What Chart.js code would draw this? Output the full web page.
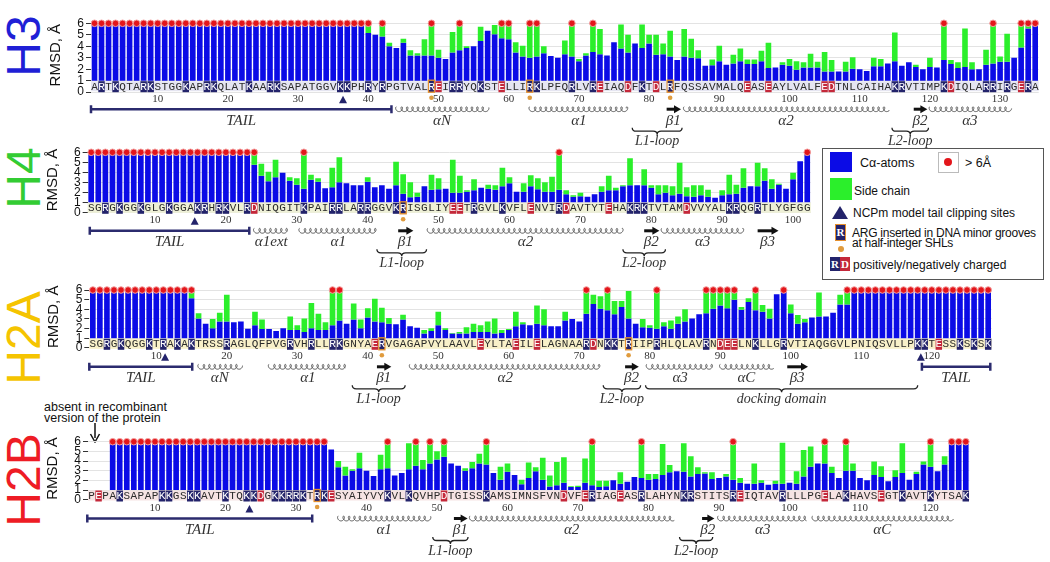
<!DOCTYPE html>
<html lang="en">
<head>
<meta charset="UTF-8">
<title>Per-residue RMSD of histones H3, H4, H2A, H2B</title>
<style>
    body {
        margin: 0;
        background: #ffffff;
        font-family: 'Liberation Sans', Arial, sans-serif;
        color: #111;
    }
    .page {
        position: relative;
        width: 1050px;
        height: 562px;
        overflow: hidden;
    }
    canvas.panel {
        position: absolute;
        left: 0;
        top: 0;
    }
    .hlabel {
        position: absolute;
        left: -31px;
        width: 110px;
        height: 50px;
        line-height: 50px;
        text-align: center;
        font-size: 48px;
        transform: rotate(-90deg);
    }
    .legend {
        position: absolute;
        left: 822px;
        top: 148px;
        width: 220px;
        height: 130px;
        border: 1px solid #555;
        background: #fff;
        font-size: 12px;
    }
    .legend div, .legend span {
        position: absolute;
    }
    .legend span {
        white-space: nowrap;
        line-height: 12px;
    }
    .note {
        position: absolute;
        left: 44px;
        top: 402px;
        font-size: 12.5px;
        line-height: 11px;
        color: #111;
    }
</style>
</head>
<body>
<div class="page" id="page">
    <div class="hlabel" style="top:21px;color:#1f1fd6">H3</div>
    <div class="hlabel" style="top:153px;color:#33cc33">H4</div>
    <div class="hlabel" style="top:313px;color:#f5c400">H2A</div>
    <div class="hlabel" style="top:455px;color:#ee1c25">H2B</div>

    <div class="legend">
        <div style="left:7px;top:3px;width:22px;height:20px;background:#0b0be6"></div>
        <span style="left:37px;top:8px;font-size:12.5px">Cα-atoms</span>
        <div style="left:115px;top:3px;width:19px;height:19px;border:1px solid #bbb"></div>
        <div style="left:121px;top:9px;width:8px;height:8px;border-radius:50%;background:#e3161b"></div>
        <span style="left:142px;top:8px;font-size:12.5px">&gt; 6Å</span>
        <div style="left:7px;top:29px;width:22px;height:22px;background:#2bef2b"></div>
        <span style="left:31px;top:36px">Side chain</span>
        <div style="left:9px;top:57px;width:0;height:0;border-left:8px solid transparent;border-right:8px solid transparent;border-bottom:13px solid #23236b"></div>
        <span style="left:30px;top:58px">NCPm model tail clipping sites</span>
        <div style="left:12px;top:75px;width:9px;height:15px;background:#23236b;border:1.5px solid #e5902e;color:#fff;font:bold 11px 'Liberation Serif',serif;text-align:center;line-height:15px">R</div>
        <div style="left:15px;top:97px;width:6px;height:6px;border-radius:50%;background:#e09b3d"></div>
        <span style="left:29px;top:78px;letter-spacing:-0.25px">ARG inserted in DNA minor grooves</span>
        <span style="left:29px;top:88px;letter-spacing:-0.25px">at half-integer SHLs</span>
        <div style="left:7px;top:108px;width:10px;height:14px;background:#23236b;color:#fff;font:bold 11px 'Liberation Serif',serif;text-align:center;line-height:14px">R</div>
        <div style="left:17px;top:108px;width:10px;height:14px;background:#c4283a;color:#fff;font:bold 11px 'Liberation Serif',serif;text-align:center;line-height:14px">D</div>
        <span style="left:30px;top:110px">positively/negatively charged</span>
    </div>

    <div class="note">absent in recombinant<br>version of the protein</div>
    <svg style="position:absolute;left:88px;top:423px" width="14" height="20">
        <line x1="7" y1="0" x2="7" y2="15" stroke="#111" stroke-width="1.5"/>
        <path d="M2.5 11 L7 19 L11.5 11" fill="none" stroke="#111" stroke-width="1.5"/>
    </svg>
</div>

<script src="https://cdn.jsdelivr.net/npm/chart.js"></script>
<script>
    // bars start at 1 A, the 0..1 band holds the sequence
    const BAR_BASE = 1;
    const Y_TICKS = [0, 1, 2, 3, 4, 5, 6];

    // ---------- H3 ----------
    const H3_SEQ = 'ARTKQTARKSTGGKAPRKQLATKAARKSAPATGGVKKPHRYRPGTVALREIRRYQKSTELLIRKLPFQRLVREIAQDFKTDLRFQSSAVMALQEASEAYLVALFEDTNLCAIHAKRVTIMPKDIQLARRIRGERA';
    const H3_CA = [
        6, 6, 6, 6, 6, 6, 6, 6, 6, 6,
        6, 6, 6, 6, 6, 6, 6, 6, 6, 6,
        6, 6, 6, 6, 6, 6, 6, 6, 6, 6,
        6, 6, 6, 6, 6, 6, 6, 6, 6, 5.15,
        5.0, 4.85, 4.0, 3.85, 4.3, 3.2, 3.2, 3.2, 3.2, 3.0,
        2.9, 3.45, 3.65, 3.85, 4.0, 4.45, 5.35, 5.05, 4.7, 4.6,
        3.45, 3.1, 3.0, 3.1, 3.4, 3.15, 3.0, 3.3, 3.1, 2.7,
        3.2, 3.5, 3.3, 3.2, 4.35, 3.8, 3.45, 4.25, 3.85, 4.25,
        3.25, 3.3, 3.1, 2.8, 3.1, 3.0, 2.95, 2.3, 2.35, 2.7,
        2.4, 2.5, 2.7, 2.45, 2.45, 2.7, 2.1, 2.15, 2.4, 2.3,
        1.95, 2.15, 2.15, 2.15, 1.8, 1.8, 1.8, 1.8, 2.05, 2.0,
        1.85, 2.25, 2.25, 2.5, 2.7, 2.3, 2.6, 2.2, 2.0, 2.2,
        2.15, 2.8, 2.45, 2.1, 2.2, 2.0, 2.0, 2.4, 2.5, 2.65,
        2.65, 3.0, 3.9, 5.55, 5.8
    ];
    const H3_TOTAL = [
        6, 6, 6, 6, 6, 6, 6, 6, 6, 6,
        6, 6, 6, 6, 6, 6, 6, 6, 6, 6,
        6, 6, 6, 6, 6, 6, 6, 6, 6, 6,
        6, 6, 6, 6, 6, 6, 6, 6, 6, 6,
        5.0, 6, 4.3, 3.85, 4.65, 3.65, 3.4, 4.6, 6, 3.7,
        2.9, 5.25, 6, 4.0, 4.0, 5.7, 5.35, 5.85, 6, 6,
        4.35, 4.05, 6, 6, 4.0, 3.15, 3.0, 4.5, 6, 2.9,
        3.4, 6, 5.5, 3.2, 4.35, 5.9, 5.0, 4.25, 5.9, 5.0,
        5.0, 4.25, 5.35, 2.8, 5.5, 4.65, 3.65, 2.3, 2.85, 4.05,
        2.4, 3.25, 3.8, 2.85, 2.85, 3.6, 4.3, 2.15, 2.6, 2.9,
        2.7, 2.6, 3.35, 2.65, 3.5, 2.8, 1.8, 2.65, 3.05, 2.0,
        1.85, 3.0, 2.9, 2.5, 5.2, 2.3, 2.6, 2.4, 2.0, 3.0,
        2.15, 6, 2.8, 2.6, 5.55, 2.6, 2.0, 3.7, 6, 3.1,
        5.1, 3.0, 6, 6, 6
    ];
    const H3_POS = [2, 4, 8, 9, 14, 17, 18, 23, 26, 27, 36, 37, 40, 42, 52, 53, 56, 64, 69, 72, 79, 115, 116, 122, 128, 129, 131, 134];
    const H3_NEG = [50, 59, 73, 77, 81, 94, 97, 105, 106, 123, 133];
    const H3_ARG = [49, 63, 83];
    const H3_CLIP = [36.4];
    const H3_SS = [
        ['tail', 0.5, 43.3, 'TAIL'],
        ['helix', 44, 57, 'αN'],
        ['helix', 63, 77, 'α1'],
        ['strand', 82.5, 84.4, 'β1'],
        ['helix', 85, 114, 'α2'],
        ['strand', 117.7, 119.5, 'β2'],
        ['helix', 120, 131.4, 'α3'],
        ['brace', 77.6, 84.7, 'L1-loop'],
        ['brace', 114.6, 119.8, 'L2-loop']
    ];

    // ---------- H4 ----------
    const H4_SEQ = 'SGRGKGGKGLGKGGAKRHRKVLRDNIQGITKPAIRRLARRGGVKRISGLIYEETRGVLKVFLENVIRDAVTYTEHAKRKTVTAMDVVYALKRQGRTLYGFGG';
    const H4_CA = [
        6, 6, 6, 6, 6, 6, 6, 6, 6, 6,
        6, 6, 6, 6, 6, 6, 6, 6, 6, 6,
        6, 6, 6, 4.75, 3.65, 3.1, 3.5, 3.95, 3.15, 2.75,
        2.35, 3.25, 3.05, 2.4, 2.5, 3.0, 2.9, 2.7, 2.7, 3.05,
        2.5, 2.7, 2.35, 2.7, 1.85, 1.5, 1.55, 2.6, 2.25, 2.3,
        2.35, 1.95, 1.95, 2.05, 2.2, 2.45, 2.35, 2.25, 2.6, 2.9,
        2.05, 2.05, 2.6, 2.3, 2.05, 2.05, 2.25, 1.8, 1.55, 1.6,
        1.55, 1.8, 2.05, 2.2, 2.2, 2.6, 2.7, 2.7, 2.7, 2.45,
        1.8, 1.95, 1.7, 1.85, 1.6, 1.55, 1.7, 1.55, 1.45, 1.7,
        1.8, 1.85, 2.45, 2.6, 2.6, 3.15, 2.35, 2.75, 2.35, 3.3,
        5.1, 5.8
    ];
    const H4_TOTAL = [
        6, 6, 6, 6, 6, 6, 6, 6, 6, 6,
        6, 6, 6, 6, 6, 6, 6, 6, 6, 6,
        6, 6, 6, 6, 4.85, 4.05, 5.25, 3.95, 3.5, 3.4,
        6, 3.75, 3.4, 2.4, 4.45, 5.5, 2.9, 2.7, 2.7, 3.5,
        2.5, 2.7, 2.35, 5.05, 3.8, 3.0, 1.95, 2.6, 3.75, 3.4,
        2.35, 5.25, 3.65, 2.2, 3.3, 2.45, 2.75, 2.7, 4.45, 3.5,
        2.05, 2.9, 3.7, 3.4, 3.0, 3.55, 6, 2.2, 1.7, 1.95,
        1.55, 1.8, 2.6, 3.65, 2.45, 2.7, 5.4, 2.7, 4.3, 2.7,
        2.7, 2.7, 2.6, 4.95, 2.5, 2.7, 2.7, 2.25, 1.45, 2.2,
        3.75, 2.75, 4.4, 2.6, 4.95, 4.4, 3.3, 2.85, 2.35, 3.95,
        5.1, 6
    ];
    const H4_POS = [3, 5, 8, 12, 16, 17, 19, 20, 23, 31, 35, 36, 39, 40, 44, 55, 59, 67, 77, 78, 79, 91, 92, 95];
    const H4_NEG = [24, 52, 53, 63, 68, 74, 85];
    const H4_ARG = [45];
    const H4_CLIP = [15.6];
    const H4_SS = [
        ['tail', 0.8, 23.3, 'TAIL'],
        ['helix', 24, 28.8, 'α1ext'],
        ['helix', 30.4, 41.3, 'α1'],
        ['strand', 44.3, 46.3, 'β1'],
        ['helix', 48.5, 76, 'α2'],
        ['strand', 79, 81, 'β2'],
        ['helix', 81.5, 93, 'α3'],
        ['strand', 95, 97.8, 'β3'],
        ['brace', 41.3, 48.3, 'L1-loop'],
        ['brace', 76, 82, 'L2-loop']
    ];

    // ---------- H2A ----------
    const H2A_SEQ = 'SGRGKQGGKTRAKAKTRSSRAGLQFPVGRVHRLLRKGNYAERVGAGAPVYLAAVLEYLTAEILELAGNAARDNKKTRIIPRHLQLAVRNDEELNKLLGRVTIAQGGVLPNIQSVLLPKKTESSKSKSK';
    const H2A_CA = [
        6, 6, 6, 6, 6, 6, 6, 6, 6, 6,
        6, 6, 6, 6, 5.15, 3.05, 2.5, 2.05, 2.75, 2.75,
        2.65, 2.75, 2.0, 2.35, 1.95, 1.95, 1.75, 2.05, 1.85, 1.85,
        1.65, 2.05, 1.85, 1.85, 2.35, 2.85, 2.5, 2.95, 2.05, 3.15,
        2.75, 2.65, 2.5, 2.45, 2.95, 2.25, 2.1, 1.5, 1.75, 2.35,
        1.85, 1.5, 1.5, 1.5, 1.65, 1.65, 1.65, 1.5, 1.55, 1.85,
        2.25, 2.45, 2.35, 2.5, 2.35, 2.25, 2.25, 2.85, 3.0, 2.75,
        3.55, 4.55, 4.05, 3.9, 3.5, 4.25, 3.05, 2.5, 2.15, 2.1,
        2.0, 2.25, 2.0, 2.5, 2.75, 3.05, 3.5, 3.6, 4.05, 4.4,
        4.1, 5.0, 3.95, 4.75, 3.9, 3.75, 3.05, 5.55, 5.85, 3.6,
        2.5, 2.65, 3.15, 3.25, 3.25, 3.65, 4.5, 4.5, 6, 6,
        6, 6, 6, 6, 6, 6, 6, 6, 6, 6,
        6, 6, 6, 6, 6, 6, 6, 6
    ];
    const H2A_TOTAL = [
        6, 6, 6, 6, 6, 6, 6, 6, 6, 6,
        6, 6, 6, 6, 6, 3.6, 2.5, 3.0, 3.65, 5.5,
        2.65, 2.75, 2.0, 3.75, 2.95, 1.95, 1.75, 2.05, 3.25, 2.35,
        3.05, 4.65, 3.55, 2.65, 6, 6, 2.5, 4.6, 2.95, 4.1,
        5.1, 4.15, 3.1, 2.45, 3.45, 2.25, 2.1, 1.85, 2.05, 3.75,
        2.05, 1.55, 1.65, 2.15, 2.5, 2.35, 2.75, 3.05, 1.85, 1.95,
        3.75, 2.65, 2.35, 4.4, 4.0, 2.25, 2.25, 3.75, 3.0, 2.75,
        6, 5.5, 5.35, 6, 4.85, 4.85, 5.9, 2.5, 3.0, 2.35,
        6, 2.65, 2.85, 3.25, 4.0, 3.05, 3.5, 6, 6, 6,
        6, 6, 4.25, 5.15, 6, 4.45, 4.05, 5.55, 6, 4.5,
        3.4, 3.0, 3.15, 5.75, 3.25, 3.65, 5.5, 6, 6, 6,
        6, 6, 6, 6, 6, 6, 6, 6, 6, 6,
        6, 6, 6, 6, 6, 6, 6, 6
    ];
    const H2A_POS = [3, 5, 9, 11, 13, 15, 20, 29, 32, 35, 36, 71, 74, 75, 81, 88, 95, 99, 118, 119, 124, 126, 128];
    const H2A_NEG = [41, 56, 61, 64, 72, 90, 91, 92, 121];
    const H2A_ARG = [42, 77];
    const H2A_CLIP = [11.25, 118.45];
    const H2A_SS = [
        ['tail', 0.5, 15.1, 'TAIL'],
        ['helix', 16, 22, 'αN'],
        ['helix', 26, 37, 'α1'],
        ['strand', 41.3, 43.2, 'β1'],
        ['helix', 46, 73, 'α2'],
        ['strand', 76.5, 78.3, 'β2'],
        ['helix', 79.6, 89, 'α3'],
        ['helix', 90, 97.4, 'αC'],
        ['strand', 99.5, 102.3, 'β3'],
        ['tail', 118.6, 128.3, 'TAIL'],
        ['brace', 37.8, 45.3, 'L1-loop'],
        ['brace', 73.4, 78.7, 'L2-loop'],
        ['brace', 79.4, 118, 'docking domain']
    ];

    // ---------- H2B ----------
    const H2B_SEQ = 'PEPAKSAPAPKKGSKKAVTKTQKKDGKKRRKTRKESYAIYVYKVLKQVHPDTGISSKAMSIMNSFVNDVFERIAGEASRLAHYNKRSTITSREIQTAVRLLLPGELAKHAVSEGTKAVTKYTSAK';
    const H2B_CA = [
        null, null, null, 6, 6, 6, 6, 6, 6, 6,
        6, 6, 6, 6, 6, 6, 6, 6, 6, 6,
        6, 6, 6, 6, 6, 6, 6, 6, 6, 6,
        6, 6, 6, 6, 5.2, 3.35, 2.5, 3.0, 3.25, 3.0,
        2.45, 3.15, 3.25, 2.5, 2.75, 3.15, 3.5, 3.15, 3.75, 4.15,
        4.45, 3.75, 3.5, 3.0, 3.25, 3.75, 3.65, 2.75, 2.05, 2.9,
        2.55, 1.6, 2.25, 2.95, 2.05, 1.35, 1.5, 1.75, 1.3, 1.3,
        1.75, 1.5, 1.3, 1.4, 2.0, 1.65, 1.85, 2.35, 2.25, 2.05,
        2.15, 2.55, 2.85, 2.95, 2.9, 2.4, 2.65, 2.7, 2.15, 2.25,
        2.4, 2.05, 1.75, 1.65, 1.65, 1.75, 1.55, 1.65, 1.65, 1.75,
        1.65, 2.4, 3.4, 3.75, 3.75, 2.75, 2.25, 3.0, 3.0, 2.25,
        2.0, 2.55, 2.35, 1.9, 2.35, 2.75, 2.05, 2.65, 3.65, 3.4,
        2.95, 3.65, 6, 6, 6
    ];
    const H2B_TOTAL = [
        null, null, null, 6, 6, 6, 6, 6, 6, 6,
        6, 6, 6, 6, 6, 6, 6, 6, 6, 6,
        6, 6, 6, 6, 6, 6, 6, 6, 6, 6,
        6, 6, 6, 6, 5.2, 4.0, 3.4, 3.15, 4.85, 3.0,
        2.45, 4.65, 6, 2.5, 2.75, 5.85, 6, 4.1, 6, 5.0,
        6, 3.75, 3.5, 3.25, 3.9, 4.75, 6, 2.75, 3.4, 3.75,
        2.55, 2.05, 3.85, 3.35, 4.35, 2.5, 3.9, 4.4, 1.4, 1.45,
        4.25, 6, 1.95, 1.95, 2.0, 2.85, 1.85, 2.35, 6, 2.65,
        2.65, 5.75, 3.6, 2.95, 5.85, 4.5, 3.35, 2.85, 2.85, 2.25,
        2.65, 6, 2.25, 1.65, 3.75, 2.0, 1.55, 1.95, 5.9, 1.75,
        2.95, 5.15, 5.5, 3.75, 6, 3.4, 2.25, 6, 3.75, 2.25,
        2.0, 3.95, 3.45, 1.9, 3.05, 5.85, 2.05, 2.9, 3.95, 6,
        2.95, 4.5, 6, 6, 6
    ];
    const H2B_POS = [5, 11, 12, 15, 16, 20, 23, 24, 27, 28, 29, 30, 31, 34, 43, 46, 57, 72, 79, 85, 86, 92, 99, 108, 116, 120, 125];
    const H2B_NEG = [2, 25, 35, 51, 68, 71, 76, 93, 105, 113];
    const H2B_ARG = [33];
    const H2B_CLIP = [23.4];
    const H2B_SS = [
        ['tail', 0.4, 32.3, 'TAIL'],
        ['helix', 36, 49, 'α1'],
        ['strand', 52.4, 54.2, 'β1'],
        ['helix', 54.7, 83.5, 'α2'],
        ['strand', 87.6, 89.2, 'β2'],
        ['helix', 89.9, 102.5, 'α3'],
        ['helix', 103.3, 123, 'αC'],
        ['brace', 49.4, 54.4, 'L1-loop'],
        ['brace', 84.4, 89.1, 'L2-loop']
    ];

    // panel placement on the page (pixels)
    const AXIS_W = 44;
    const PANELS = [
        { seq: H3_SEQ, ca: H3_CA, total: H3_TOTAL, pos: H3_POS, neg: H3_NEG, arg: H3_ARG, clip: H3_CLIP, ss: H3_SS,
          left: 91.0, right: 1038.7, y6: 23.3, unit: 11.48, strip: '#e5e5f1' },
        { seq: H4_SEQ, ca: H4_CA, total: H4_TOTAL, pos: H4_POS, neg: H4_NEG, arg: H4_ARG, clip: H4_CLIP, ss: H4_SS,
          left: 87.65, right: 810.8, y6: 152.3, unit: 10.0, strip: '#eef0d6' },
        { seq: H2A_SEQ, ca: H2A_CA, total: H2A_TOTAL, pos: H2A_POS, neg: H2A_NEG, arg: H2A_ARG, clip: H2A_CLIP, ss: H2A_SS,
          left: 89.3, right: 991.7, y6: 290, unit: 9.66, strip: '#f8f0c9' },
        { seq: H2B_SEQ, ca: H2B_CA, total: H2B_TOTAL, pos: H2B_POS, neg: H2B_NEG, arg: H2B_ARG, clip: H2B_CLIP, ss: H2B_SS,
          left: 88.0, right: 969.3, y6: 441.7, unit: 9.66, strip: '#f6e3e3' }
    ];

    const NAVY = '#23236b';
    const RED = '#c4283a';
    const ORANGE = '#e5902e';
    const INK = '#2a2a2a';

    function drawCoil(ctx, x1, x2, y) {
        const period = 5.4, a = period / (2 * Math.PI), bx = 1.9, by = 2.4;
        ctx.beginPath();
        for (let t = 0; a * t <= x2 - x1; t += 0.15) {
            const x = x1 + a * t - bx * Math.sin(t);
            const yy = y - by * Math.cos(t);
            if (t === 0) ctx.moveTo(x, yy); else ctx.lineTo(x, yy);
        }
        ctx.lineWidth = 0.9;
        ctx.strokeStyle = '#444';
        ctx.stroke();
    }

    function drawArrow(ctx, x1, x2, y) {
        ctx.fillStyle = '#111';
        ctx.fillRect(x1, y - 1.5, x2 - x1 - 5, 3);
        ctx.beginPath();
        ctx.moveTo(x2 - 6, y - 4);
        ctx.lineTo(x2 + 1, y);
        ctx.lineTo(x2 - 6, y + 4);
        ctx.closePath();
        ctx.fill();
    }

    function drawTail(ctx, x1, x2, y) {
        ctx.strokeStyle = '#2b2b6e';
        ctx.lineWidth = 2.5;
        ctx.beginPath();
        ctx.moveTo(x1, y); ctx.lineTo(x2, y);
        ctx.moveTo(x1, y - 4); ctx.lineTo(x1, y + 4);
        ctx.moveTo(x2, y - 4); ctx.lineTo(x2, y + 4);
        ctx.stroke();
    }

    function drawBrace(ctx, x1, x2, y, h) {
        const xm = (x1 + x2) / 2, r = Math.min(4, (x2 - x1) / 4);
        ctx.strokeStyle = '#222';
        ctx.lineWidth = 1.3;
        ctx.beginPath();
        ctx.moveTo(x1, y);
        ctx.quadraticCurveTo(x1, y + h / 2, x1 + r, y + h / 2);
        ctx.lineTo(xm - r, y + h / 2);
        ctx.quadraticCurveTo(xm, y + h / 2, xm, y + h);
        ctx.quadraticCurveTo(xm, y + h / 2, xm + r, y + h / 2);
        ctx.lineTo(x2 - r, y + h / 2);
        ctx.quadraticCurveTo(x2, y + h / 2, x2, y);
        ctx.stroke();
    }

    // sequence strip, residue numbers and secondary structure under each panel
    function seqPlugin(p) {
        return {
            id: 'seqStrip',
            afterDatasetsDraw(chart) {
                const ctx = chart.ctx;
                const xs = chart.scales.x, ys = chart.scales.y;
                const px = r => xs.getPixelForValue(r - 1);
                const step = px(2) - px(1);
                const base = ys.getPixelForValue(BAR_BASE);
                const ly = base + 5.5;
                const n = p.seq.length;
                ctx.save();

                ctx.fillStyle = p.strip;
                ctx.fillRect(px(1) - step / 2, ly - 5, step * n, 10);
                ctx.font = '11px "Liberation Mono", monospace';
                ctx.textAlign = 'center';
                ctx.textBaseline = 'middle';
                for (let r = 1; r <= n; r++) {
                    const x = px(r);
                    let fg = INK;
                    if (p.arg.includes(r)) {
                        ctx.fillStyle = NAVY;
                        ctx.fillRect(x - step / 2 + 0.5, ly - 6, step - 1, 12);
                        ctx.strokeStyle = ORANGE;
                        ctx.lineWidth = 1.3;
                        ctx.strokeRect(x - step / 2 + 0.5, ly - 6, step - 1, 12);
                        ctx.fillStyle = '#e09b3d';
                        ctx.beginPath();
                        ctx.arc(x, ly + 11.5, 2.3, 0, Math.PI * 2);
                        ctx.fill();
                        fg = '#fff';
                    } else if (p.pos.includes(r)) {
                        ctx.fillStyle = NAVY;
                        ctx.fillRect(x - step / 2 + 0.3, ly - 5, step - 0.6, 11);
                        fg = '#fff';
                    } else if (p.neg.includes(r)) {
                        ctx.fillStyle = RED;
                        ctx.fillRect(x - step / 2 + 0.3, ly - 5, step - 0.6, 11);
                        fg = '#fff';
                    }
                    ctx.fillStyle = fg;
                    ctx.fillText(p.seq[r - 1], x, ly + 0.5);
                }

                ctx.font = '11px "Liberation Serif", serif';
                ctx.fillStyle = '#333';
                for (let r = 10; r <= n; r += 10) ctx.fillText(String(r), px(r), base + 18);

                ctx.fillStyle = NAVY;
                p.clip.forEach(r => {
                    const x = px(r), y = base + 19;
                    ctx.beginPath();
                    ctx.moveTo(x - 4, y + 3.5);
                    ctx.lineTo(x, y - 4);
                    ctx.lineTo(x + 4, y + 3.5);
                    ctx.closePath();
                    ctx.fill();
                });

                const ySS = base + 28.5, yLab = base + 40, yBr = base + 47, yBrLab = base + 61;
                p.ss.forEach(([kind, a, b, label]) => {
                    const x1 = px(a), x2 = px(b), xm = (x1 + x2) / 2;
                    if (kind === 'tail') drawTail(ctx, x1, x2, ySS);
                    else if (kind === 'helix') drawCoil(ctx, x1, x2, ySS);
                    else if (kind === 'strand') drawArrow(ctx, x1, x2, ySS);
                    else drawBrace(ctx, x1, x2, yBr, 7);
                    ctx.font = kind === 'brace' ? 'italic 14px "Liberation Serif", serif' : 'italic 15px "Liberation Serif", serif';
                    ctx.fillStyle = '#333';
                    ctx.textAlign = 'center';
                    ctx.textBaseline = 'middle';
                    ctx.fillText(label, xm, kind === 'brace' ? yBrLab : yLab);
                });
                ctx.restore();
            }
        };
    }

    function makePanel(p) {
        const cv = document.createElement('canvas');
        cv.width = 1050;
        cv.height = 562;
        cv.className = 'panel';
        document.getElementById('page').appendChild(cv);

        const yMax = 6.45;
        const top = p.y6 - (yMax - 6) * p.unit;
        const y0 = p.y6 + 6 * p.unit;

        new Chart(cv, {
            type: 'bar',
            data: {
                labels: p.seq.split(''),
                datasets: [
                    {
                        type: 'line',
                        data: p.total.map(v => v !== null && v >= 6 ? 6 : null),
                        showLine: false,
                        pointRadius: 3.3,
                        pointBackgroundColor: '#e3161b',
                        pointBorderColor: '#f3a0a0',
                        pointBorderWidth: 1,
                        order: 0
                    },
                    {
                        label: 'Side chain',
                        data: p.total.map((v, i) => v === null ? null : [p.ca[i], v]),
                        backgroundColor: '#2bef2b',
                        grouped: false,
                        barPercentage: 0.8,
                        categoryPercentage: 1,
                        order: 1
                    },
                    {
                        label: 'Cα-atoms',
                        data: p.ca.map(v => v === null ? null : [BAR_BASE, v]),
                        backgroundColor: '#0b0be6',
                        grouped: false,
                        barPercentage: 0.8,
                        categoryPercentage: 1,
                        order: 2
                    }
                ]
            },
            options: {
                responsive: false,
                animation: false,
                devicePixelRatio: 1,
                layout: {
                    padding: { left: p.left - AXIS_W, right: 1050 - p.right, top: top, bottom: 562 - y0 }
                },
                plugins: {
                    legend: { display: false },
                    tooltip: { enabled: false }
                },
                scales: {
                    x: { display: false },
                    y: {
                        min: 0,
                        max: yMax,
                        afterBuildTicks: s => { s.ticks = Y_TICKS.map(v => ({ value: v })); },
                        afterFit: s => { s.width = AXIS_W; },
                        ticks: {
                            autoSkip: false,
                            color: '#111',
                            padding: 2,
                            font: { size: 12, family: 'Liberation Sans' }
                        },
                        grid: {
                            color: '#e3e3e3',
                            tickColor: '#333',
                            tickLength: 5
                        },
                        border: { display: false },
                        title: {
                            display: true,
                            text: 'RMSD, Å',
                            color: '#111',
                            padding: 0,
                            font: { size: 15, family: 'Liberation Sans' }
                        }
                    }
                }
            },
            plugins: [seqPlugin(p)]
        });
    }

    PANELS.forEach(makePanel);
</script>
</body>
</html>
